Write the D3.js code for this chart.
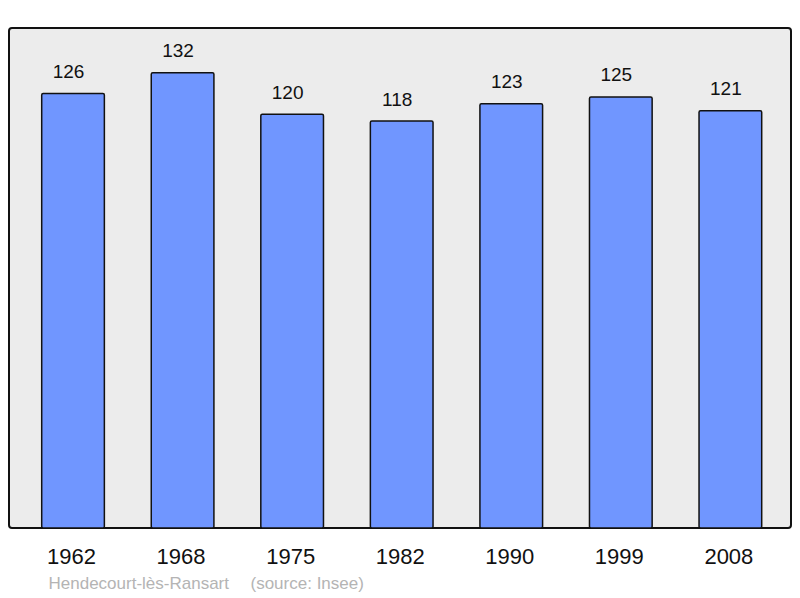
<!DOCTYPE html>
<html>
<head>
<meta charset="utf-8">
<script src="https://cdn.jsdelivr.net/npm/d3@7"></script>
<style>
  body { margin: 0; background: #fff; }
  svg { display: block; font-family: "Liberation Sans", Arial, sans-serif; }
</style>
</head>
<body>
<svg id="chart" width="800" height="598"></svg>
<script>
// population by census year
const years = ["1962", "1968", "1975", "1982", "1990", "1999", "2008"];
const population = [126, 132, 120, 118, 123, 125, 121];
const commune = "Hendecourt-lès-Ransart";
const source = "(source: Insee)";

const svg = d3.select('#chart');

const panel = { x0: 9, x1: 791, y0: 28, y1: 528 };

const x = d3.scaleBand()
    .domain(years)
    .range([41.7, 761.7])
    .paddingInner(0.428)
    .paddingOuter(0);

const y = d3.scaleLinear()
    .domain([0, 145])
    .range([panel.y1, panel.y0]);

svg.append('rect')
    .attr('x', panel.x0)
    .attr('y', panel.y0)
    .attr('width', panel.x1 - panel.x0)
    .attr('height', panel.y1 - panel.y0)
    .attr('rx', 3)
    .attr('fill', '#ececec')
    .attr('stroke', '#111')
    .attr('stroke-width', 2);

const data = years.map((yr, i) => ({ year: yr, value: population[i] }));

svg.selectAll('rect.bar')
    .data(data)
    .enter()
    .append('rect')
    .attr('class', 'bar')
    .attr('x', d => x(d.year))
    .attr('y', d => y(d.value))
    .attr('width', x.bandwidth())
    .attr('height', d => panel.y1 - y(d.value))
    .attr('rx', 1.5)
    .attr('fill', '#7096ff')
    .attr('stroke', '#111')
    .attr('stroke-width', 1.5);

// value labels sit a bit left of the bar centre in the original
svg.selectAll('text.val')
    .data(data)
    .enter()
    .append('text')
    .attr('class', 'val')
    .attr('x', d => x(d.year) + x.bandwidth() / 2 - 4.5)
    .attr('y', d => y(d.value) - 15.5)
    .attr('text-anchor', 'middle')
    .attr('font-size', 19)
    .attr('fill', '#111')
    .text(d => d.value);

// x axis labels, no line or ticks
const axis = d3.axisBottom(x).tickSize(0).tickPadding(0);
const gx = svg.append('g')
    .attr('transform', `translate(-1.5,${panel.y1})`)
    .call(axis);
gx.select('.domain').remove();
gx.selectAll('text')
    .attr('dy', null)
    .attr('y', 36)
    .attr('font-size', 22)
    .attr('font-family', '"Liberation Sans", Arial, sans-serif')
    .attr('fill', '#111');

svg.append('text')
    .attr('x', 48.5)
    .attr('y', 589)
    .attr('font-size', 17)
    .attr('fill', '#b4b4b4')
    .text(commune);

svg.append('text')
    .attr('x', 250.5)
    .attr('y', 589)
    .attr('font-size', 17)
    .attr('fill', '#b4b4b4')
    .text(source);
</script>
</body>
</html>
